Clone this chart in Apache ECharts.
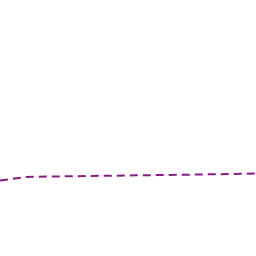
<!DOCTYPE html>
<html><head><meta charset="utf-8">
<script src="https://cdn.jsdelivr.net/npm/echarts@6/dist/echarts.min.js"></script>
<style>html,body{margin:0;padding:0;background:#fff}#c{width:256px;height:256px}</style>
</head><body><div id="c"></div>
<script>
const xValues = [0,1,2,3,4,5,6,7,8,9,10];
const yValues = [75.5,79,79.5,79.8,80.2,80.5,80.9,81.2,81.6,82,82.5];
const chart = echarts.init(document.getElementById('c'));
chart.setOption({
  animation:false,
  grid:{left:0,right:0,top:0,bottom:0},
  xAxis:{type:'value',min:0,max:10,show:false},
  yAxis:{type:'value',min:0,max:256,show:false},
  series:[{type:'line',data:xValues.map((x,i)=>[x,yValues[i]]),showSymbol:false,smooth:false,
    lineStyle:{color:'#8a1a88',width:2,type:[8,5]}}]
});
</script></body></html>
